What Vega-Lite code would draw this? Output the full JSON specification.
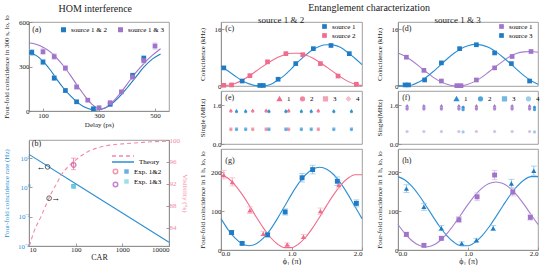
{
"$schema": "https://vega.github.io/schema/vega-lite/v6.json",
"padding": {"left": 1, "top": 2, "right": 0, "bottom": 0},
"background": "white",
"config": {
  "font": "Liberation Serif",
  "view": {"stroke": "#888", "strokeWidth": 0.8},
  "axis": {"labelFont": "Liberation Serif", "titleFont": "Liberation Serif", "labelFontSize": 7, "titleFontSize": 7, "titleFontWeight": "normal", "labelColor": "#222", "titleColor": "#222", "domainColor": "#888", "tickColor": "#888", "tickSize": -3, "labelPadding": 3, "titlePadding": 2, "grid": false, "domainWidth": 0.8, "tickWidth": 0.8},
  "legend": {"labelFont": "Liberation Serif", "labelFontSize": 7, "titleFont": "Liberation Serif", "padding": 0},
  "title": {"font": "Liberation Serif", "fontWeight": "normal", "color": "#222", "anchor": "middle"},
  "text": {"font": "Liberation Serif"}
},
"datasets": {
  "a_fit": [
    {"s":"source 1 & 2","d":50,"c":390},{"s":"source 1 & 2","d":75,"c":375},{"s":"source 1 & 2","d":100,"c":335},{"s":"source 1 & 2","d":125,"c":280},{"s":"source 1 & 2","d":150,"c":212},{"s":"source 1 & 2","d":175,"c":150},{"s":"source 1 & 2","d":200,"c":98},{"s":"source 1 & 2","d":225,"c":55},{"s":"source 1 & 2","d":250,"c":25},{"s":"source 1 & 2","d":275,"c":9},{"s":"source 1 & 2","d":290,"c":7},{"s":"source 1 & 2","d":310,"c":12},{"s":"source 1 & 2","d":340,"c":40},{"s":"source 1 & 2","d":370,"c":90},{"s":"source 1 & 2","d":400,"c":155},{"s":"source 1 & 2","d":430,"c":225},{"s":"source 1 & 2","d":460,"c":295},{"s":"source 1 & 2","d":490,"c":350},{"s":"source 1 & 2","d":520,"c":385},
    {"s":"source 1 & 3","d":50,"c":460},{"s":"source 1 & 3","d":75,"c":450},{"s":"source 1 & 3","d":100,"c":430},{"s":"source 1 & 3","d":125,"c":400},{"s":"source 1 & 3","d":150,"c":355},{"s":"source 1 & 3","d":175,"c":300},{"s":"source 1 & 3","d":200,"c":235},{"s":"source 1 & 3","d":225,"c":165},{"s":"source 1 & 3","d":250,"c":100},{"s":"source 1 & 3","d":275,"c":45},{"s":"source 1 & 3","d":300,"c":15},{"s":"source 1 & 3","d":320,"c":18},{"s":"source 1 & 3","d":340,"c":45},{"s":"source 1 & 3","d":370,"c":105},{"s":"source 1 & 3","d":400,"c":180},{"s":"source 1 & 3","d":430,"c":255},{"s":"source 1 & 3","d":460,"c":320},{"s":"source 1 & 3","d":490,"c":375},{"s":"source 1 & 3","d":520,"c":420}
  ],
  "a_pts": [
    {"s":"source 1 & 2","d":60,"c":395,"lo":375,"hi":415},{"s":"source 1 & 2","d":100,"c":330,"lo":312,"hi":348},{"s":"source 1 & 2","d":140,"c":222,"lo":207,"hi":237},{"s":"source 1 & 2","d":180,"c":138,"lo":126,"hi":150},{"s":"source 1 & 2","d":220,"c":62,"lo":54,"hi":70},{"s":"source 1 & 2","d":280,"c":15,"lo":11,"hi":19},{"s":"source 1 & 2","d":340,"c":45,"lo":38,"hi":52},{"s":"source 1 & 2","d":420,"c":240,"lo":225,"hi":255},{"s":"source 1 & 2","d":460,"c":355,"lo":336,"hi":374},
    {"s":"source 1 & 3","d":100,"c":400,"lo":380,"hi":420},{"s":"source 1 & 3","d":140,"c":367,"lo":348,"hi":386},{"s":"source 1 & 3","d":180,"c":289,"lo":272,"hi":306},{"s":"source 1 & 3","d":220,"c":162,"lo":149,"hi":175},{"s":"source 1 & 3","d":260,"c":73,"lo":64,"hi":82},{"s":"source 1 & 3","d":300,"c":22,"lo":17,"hi":27},{"s":"source 1 & 3","d":340,"c":56,"lo":49,"hi":63},{"s":"source 1 & 3","d":380,"c":129,"lo":118,"hi":140},{"s":"source 1 & 3","d":420,"c":229,"lo":214,"hi":244},{"s":"source 1 & 3","d":460,"c":340,"lo":322,"hi":358},{"s":"source 1 & 3","d":500,"c":438,"lo":417,"hi":459}
  ],
  "b_rate": [{"t":"Theory","car":10,"r":178},{"t":"Theory","car":100,"r":1.78},{"t":"Theory","car":1000,"r":0.0178},{"t":"Theory","car":10000,"r":0.000178}],
  "b_vis": [{"t2":"Th","car":10.2,"v":80.7},{"t2":"Th","car":13,"v":83.5},{"t2":"Th","car":18,"v":86},{"t2":"Th","car":24,"v":88.5},{"t2":"Th","car":30,"v":90.3},{"t2":"Th","car":40,"v":92.2},{"t2":"Th","car":49,"v":93.6},{"t2":"Th","car":70,"v":95.2},{"t2":"Th","car":95,"v":96.2},{"t2":"Th","car":130,"v":97.1},{"t2":"Th","car":185,"v":97.9},{"t2":"Th","car":300,"v":98.6},{"t2":"Th","car":590,"v":99.1},{"t2":"Th","car":1000,"v":99.3},{"t2":"Th","car":2200,"v":99.5},{"t2":"Th","car":5000,"v":99.7},{"t2":"Th","car":10000,"v":99.8}],
  "b_exp": [{"exp":"E12","exq":"Exp. 1&2","car":90,"r":1.2,"v":95.6,"lo":94.6,"hi":96.7},{"exp":"E13","exq":"Exp. 1&3","car":91,"r":1.1,"v":95.4,"lo":94.5,"hi":96.4}],
  "b_m1": [{"car":25,"r":25,"a":"←"}],
  "b_m2": [{"car":27,"v":89.4,"a":"→"}],
  "labels": [{"lab":"(a)"},{"lab":"(b)"},{"lab":"(c)"},{"lab":"(d)"},{"lab":"(e)"},{"lab":"(f)"},{"lab":"(g)"},{"lab":"(h)"}],
  "c_fit": [
    {"s":"source 1","x":0,"y":5.5},{"s":"source 1","x":0.1,"y":4.2},{"s":"source 1","x":0.2,"y":2.8},{"s":"source 1","x":0.3,"y":1.5},{"s":"source 1","x":0.4,"y":0.6},{"s":"source 1","x":0.5,"y":0.1},{"s":"source 1","x":0.6,"y":0.05},{"s":"source 1","x":0.7,"y":0.4},{"s":"source 1","x":0.8,"y":1.6},{"s":"source 1","x":0.9,"y":3.0},{"s":"source 1","x":1.0,"y":4.9},{"s":"source 1","x":1.1,"y":6.9},{"s":"source 1","x":1.2,"y":8.7},{"s":"source 1","x":1.3,"y":10.2},{"s":"source 1","x":1.4,"y":11.2},{"s":"source 1","x":1.5,"y":11.6},{"s":"source 1","x":1.6,"y":11.5},{"s":"source 1","x":1.7,"y":10.8},{"s":"source 1","x":1.8,"y":9.4},{"s":"source 1","x":1.9,"y":7.8},{"s":"source 1","x":2.0,"y":6.0},
    {"s":"source 2","x":0,"y":0.05},{"s":"source 2","x":0.1,"y":0.2},{"s":"source 2","x":0.2,"y":0.7},{"s":"source 2","x":0.3,"y":1.6},{"s":"source 2","x":0.4,"y":2.8},{"s":"source 2","x":0.5,"y":4.2},{"s":"source 2","x":0.6,"y":5.6},{"s":"source 2","x":0.7,"y":6.9},{"s":"source 2","x":0.8,"y":8.0},{"s":"source 2","x":0.9,"y":8.8},{"s":"source 2","x":1.0,"y":9.2},{"s":"source 2","x":1.1,"y":9.2},{"s":"source 2","x":1.2,"y":8.7},{"s":"source 2","x":1.3,"y":7.9},{"s":"source 2","x":1.4,"y":6.7},{"s":"source 2","x":1.5,"y":5.3},{"s":"source 2","x":1.6,"y":3.9},{"s":"source 2","x":1.7,"y":2.5},{"s":"source 2","x":1.8,"y":1.3},{"s":"source 2","x":1.9,"y":0.5},{"s":"source 2","x":2.0,"y":0.1}
  ],
  "c_pts": [
    {"s":"source 1","x":0.04,"y":5.1},{"s":"source 1","x":0.3,"y":1.4},{"s":"source 1","x":0.55,"y":0.15},{"s":"source 1","x":0.6,"y":0.15},{"s":"source 1","x":0.81,"y":1.9},{"s":"source 1","x":1.06,"y":6.3},{"s":"source 1","x":1.31,"y":10.5},{"s":"source 1","x":1.56,"y":11.4},{"s":"source 1","x":1.82,"y":9.1},
    {"s":"source 2","x":0.04,"y":0.2},{"s":"source 2","x":0.15,"y":0.3},{"s":"source 2","x":0.41,"y":2.9},{"s":"source 2","x":0.66,"y":6.8},{"s":"source 2","x":0.92,"y":9.1},{"s":"source 2","x":1.16,"y":8.8},{"s":"source 2","x":1.41,"y":6.3},{"s":"source 2","x":1.66,"y":2.8},{"s":"source 2","x":1.92,"y":0.5}
  ],
  "d_fit": [
    {"s":"source 1","x":0,"y":9.3},{"s":"source 1","x":0.1,"y":8.4},{"s":"source 1","x":0.2,"y":7.1},{"s":"source 1","x":0.3,"y":5.6},{"s":"source 1","x":0.4,"y":4.0},{"s":"source 1","x":0.5,"y":2.5},{"s":"source 1","x":0.6,"y":1.3},{"s":"source 1","x":0.7,"y":0.5},{"s":"source 1","x":0.8,"y":0.05},{"s":"source 1","x":0.9,"y":0.05},{"s":"source 1","x":1.0,"y":0.5},{"s":"source 1","x":1.1,"y":1.3},{"s":"source 1","x":1.2,"y":2.5},{"s":"source 1","x":1.3,"y":4.0},{"s":"source 1","x":1.4,"y":5.5},{"s":"source 1","x":1.5,"y":7.0},{"s":"source 1","x":1.6,"y":8.3},{"s":"source 1","x":1.7,"y":9.2},{"s":"source 1","x":1.8,"y":9.6},{"s":"source 1","x":1.9,"y":9.7},{"s":"source 1","x":2.0,"y":9.5},
    {"s":"source 3","x":0,"y":0.1},{"s":"source 3","x":0.1,"y":0.0},{"s":"source 3","x":0.2,"y":0.3},{"s":"source 3","x":0.3,"y":1.1},{"s":"source 3","x":0.4,"y":2.4},{"s":"source 3","x":0.5,"y":4.0},{"s":"source 3","x":0.6,"y":5.8},{"s":"source 3","x":0.7,"y":7.6},{"s":"source 3","x":0.8,"y":9.2},{"s":"source 3","x":0.9,"y":10.5},{"s":"source 3","x":1.0,"y":11.3},{"s":"source 3","x":1.1,"y":11.7},{"s":"source 3","x":1.2,"y":11.5},{"s":"source 3","x":1.3,"y":10.8},{"s":"source 3","x":1.4,"y":9.6},{"s":"source 3","x":1.5,"y":8.1},{"s":"source 3","x":1.6,"y":6.4},{"s":"source 3","x":1.7,"y":4.6},{"s":"source 3","x":1.8,"y":2.9},{"s":"source 3","x":1.9,"y":1.5},{"s":"source 3","x":2.0,"y":0.5}
  ],
  "d_pts": [
    {"s":"source 1","x":0.12,"y":8.1},{"s":"source 1","x":0.37,"y":4.4},{"s":"source 1","x":0.62,"y":1.4},{"s":"source 1","x":0.84,"y":0.1},{"s":"source 1","x":0.9,"y":0.1},{"s":"source 1","x":1.12,"y":1.7},{"s":"source 1","x":1.38,"y":5.1},{"s":"source 1","x":1.63,"y":8.3},{"s":"source 1","x":1.9,"y":9.7},
    {"s":"source 3","x":0.1,"y":0.3},{"s":"source 3","x":0.15,"y":0.3},{"s":"source 3","x":0.38,"y":1.7},{"s":"source 3","x":0.62,"y":6.5},{"s":"source 3","x":0.88,"y":10.5},{"s":"source 3","x":1.12,"y":11.6},{"s":"source 3","x":1.38,"y":9.3},{"s":"source 3","x":1.62,"y":6.3},{"s":"source 3","x":1.88,"y":1.4}
  ],
  "e_pts": [
    {"src":"s2","det":"1","x":0.14,"y":1.42},{"src":"s2","det":"2","x":0.14,"y":1.36},{"src":"s2","det":"3","x":0.14,"y":0.62},{"src":"s2","det":"4","x":0.14,"y":0.58},
    {"src":"s2","det":"1","x":0.45,"y":1.42},{"src":"s2","det":"2","x":0.45,"y":1.36},{"src":"s2","det":"3","x":0.45,"y":0.62},{"src":"s2","det":"4","x":0.45,"y":0.58},
    {"src":"s2","det":"1","x":0.64,"y":1.42},{"src":"s2","det":"2","x":0.64,"y":1.36},{"src":"s2","det":"3","x":0.64,"y":0.62},{"src":"s2","det":"4","x":0.64,"y":0.58},
    {"src":"s2","det":"1","x":0.96,"y":1.42},{"src":"s2","det":"2","x":0.96,"y":1.36},{"src":"s2","det":"3","x":0.96,"y":0.62},{"src":"s2","det":"4","x":0.96,"y":0.58},
    {"src":"s2","det":"1","x":1.38,"y":1.42},{"src":"s2","det":"2","x":1.38,"y":1.36},{"src":"s2","det":"3","x":1.38,"y":0.62},{"src":"s2","det":"4","x":1.38,"y":0.58},
    {"src":"s1","det":"1","x":0.22,"y":1.40},{"src":"s1","det":"2","x":0.22,"y":1.34},{"src":"s1","det":"3","x":0.22,"y":0.62},{"src":"s1","det":"4","x":0.22,"y":0.58},
    {"src":"s1","det":"1","x":0.35,"y":1.40},{"src":"s1","det":"2","x":0.35,"y":1.34},{"src":"s1","det":"3","x":0.35,"y":0.62},{"src":"s1","det":"4","x":0.35,"y":0.58},
    {"src":"s1","det":"1","x":0.68,"y":1.40},{"src":"s1","det":"2","x":0.68,"y":1.34},{"src":"s1","det":"3","x":0.68,"y":0.62},{"src":"s1","det":"4","x":0.68,"y":0.58},
    {"src":"s1","det":"1","x":0.92,"y":1.40},{"src":"s1","det":"2","x":0.92,"y":1.34},{"src":"s1","det":"3","x":0.92,"y":0.62},{"src":"s1","det":"4","x":0.92,"y":0.58},
    {"src":"s1","det":"1","x":1.14,"y":1.40},{"src":"s1","det":"2","x":1.14,"y":1.34},{"src":"s1","det":"3","x":1.14,"y":0.62},{"src":"s1","det":"4","x":1.14,"y":0.58},
    {"src":"s1","det":"1","x":1.28,"y":1.40},{"src":"s1","det":"2","x":1.28,"y":1.34},{"src":"s1","det":"3","x":1.28,"y":0.62},{"src":"s1","det":"4","x":1.28,"y":0.58},
    {"src":"s1","det":"1","x":1.6,"y":1.40},{"src":"s1","det":"2","x":1.6,"y":1.34},{"src":"s1","det":"3","x":1.6,"y":0.62},{"src":"s1","det":"4","x":1.6,"y":0.58},
    {"src":"s1","det":"1","x":1.85,"y":1.40},{"src":"s1","det":"2","x":1.85,"y":1.34},{"src":"s1","det":"3","x":1.85,"y":0.62},{"src":"s1","det":"4","x":1.85,"y":0.58}
  ],
  "f_pts": [
    {"src":"s1","det":"1","x":0.13,"y":1.6},{"src":"s1","det":"2","x":0.13,"y":1.45},{"src":"s1","det":"3","x":0.13,"y":1.52},{"src":"s1","det":"4","x":0.13,"y":0.52},
    {"src":"s1","det":"1","x":0.37,"y":1.6},{"src":"s1","det":"2","x":0.37,"y":1.45},{"src":"s1","det":"3","x":0.37,"y":1.52},{"src":"s1","det":"4","x":0.37,"y":0.52},
    {"src":"s1","det":"1","x":0.62,"y":1.6},{"src":"s1","det":"2","x":0.62,"y":1.45},{"src":"s1","det":"3","x":0.62,"y":1.52},{"src":"s1","det":"4","x":0.62,"y":0.52},
    {"src":"s1","det":"1","x":0.87,"y":1.6},{"src":"s1","det":"2","x":0.87,"y":1.45},{"src":"s1","det":"3","x":0.87,"y":1.52},{"src":"s1","det":"4","x":0.87,"y":0.52},
    {"src":"s1","det":"1","x":1.12,"y":1.6},{"src":"s1","det":"2","x":1.12,"y":1.45},{"src":"s1","det":"3","x":1.12,"y":1.52},{"src":"s1","det":"4","x":1.12,"y":0.52},
    {"src":"s1","det":"1","x":1.38,"y":1.6},{"src":"s1","det":"2","x":1.38,"y":1.45},{"src":"s1","det":"3","x":1.38,"y":1.52},{"src":"s1","det":"4","x":1.38,"y":0.52},
    {"src":"s1","det":"1","x":1.63,"y":1.6},{"src":"s1","det":"2","x":1.63,"y":1.45},{"src":"s1","det":"3","x":1.63,"y":1.52},{"src":"s1","det":"4","x":1.63,"y":0.52},
    {"src":"s1","det":"1","x":1.88,"y":1.6},{"src":"s1","det":"2","x":1.88,"y":1.45},{"src":"s1","det":"3","x":1.88,"y":1.52},{"src":"s1","det":"4","x":1.88,"y":0.52},
    {"src":"s3","det":"1","x":0.93,"y":1.55},{"src":"s3","det":"2","x":0.93,"y":1.42},{"src":"s3","det":"3","x":0.93,"y":1.5},{"src":"s3","det":"4","x":0.93,"y":0.5},
    {"src":"s3","det":"1","x":1.95,"y":1.55},{"src":"s3","det":"2","x":1.95,"y":1.42},{"src":"s3","det":"3","x":1.95,"y":1.5},{"src":"s3","det":"4","x":1.95,"y":0.5}
  ],
  "g_fit": [
    {"s":"b","x":0,"y":80.8},{"s":"b","x":0.1,"y":52.6},{"s":"b","x":0.2,"y":30.3},{"s":"b","x":0.3,"y":16},{"s":"b","x":0.4,"y":11},{"s":"b","x":0.5,"y":16},{"s":"b","x":0.6,"y":30.3},{"s":"b","x":0.7,"y":52.6},{"s":"b","x":0.8,"y":80.8},{"s":"b","x":0.9,"y":112},{"s":"b","x":1.0,"y":143.2},{"s":"b","x":1.1,"y":171.4},{"s":"b","x":1.2,"y":193.7},{"s":"b","x":1.3,"y":208},{"s":"b","x":1.4,"y":213},{"s":"b","x":1.5,"y":208},{"s":"b","x":1.6,"y":193.7},{"s":"b","x":1.7,"y":171.4},{"s":"b","x":1.8,"y":143.2},{"s":"b","x":1.9,"y":112},{"s":"b","x":2.0,"y":80.8},
    {"s":"p","x":0,"y":193.8},{"s":"p","x":0.1,"y":184.6},{"s":"p","x":0.2,"y":167.2},{"s":"p","x":0.3,"y":143.1},{"s":"p","x":0.4,"y":114.9},{"s":"p","x":0.5,"y":85.1},{"s":"p","x":0.6,"y":56.9},{"s":"p","x":0.7,"y":32.8},{"s":"p","x":0.8,"y":15.4},{"s":"p","x":0.9,"y":6.2},{"s":"p","x":1.0,"y":6.2},{"s":"p","x":1.1,"y":15.4},{"s":"p","x":1.2,"y":32.8},{"s":"p","x":1.3,"y":56.9},{"s":"p","x":1.4,"y":85.1},{"s":"p","x":1.5,"y":114.9},{"s":"p","x":1.6,"y":143.1},{"s":"p","x":1.7,"y":167.2},{"s":"p","x":1.8,"y":184.6},{"s":"p","x":1.9,"y":193.8},{"s":"p","x":2.0,"y":193.8}
  ],
  "g_pts": [
    {"s":"p","x":0.04,"y":193,"lo":183,"hi":205},{"s":"p","x":0.16,"y":175,"lo":165,"hi":186},{"s":"p","x":0.41,"y":102,"lo":94,"hi":111},{"s":"p","x":0.6,"y":42,"lo":37,"hi":48},{"s":"p","x":0.94,"y":14,"lo":11,"hi":18},{"s":"p","x":1.17,"y":34,"lo":30,"hi":40},{"s":"p","x":1.41,"y":100,"lo":92,"hi":108},{"s":"p","x":1.67,"y":167,"lo":157,"hi":178},
    {"s":"b","x":0.15,"y":45,"lo":40,"hi":50},{"s":"b","x":0.3,"y":17,"lo":14,"hi":20},{"s":"b","x":0.66,"y":39,"lo":34,"hi":44},{"s":"b","x":0.91,"y":98,"lo":90,"hi":106},{"s":"b","x":1.15,"y":186,"lo":175,"hi":197},{"s":"b","x":1.3,"y":207,"lo":196,"hi":218},{"s":"b","x":1.65,"y":177,"lo":166,"hi":188},{"s":"b","x":1.92,"y":120,"lo":111,"hi":129}
  ],
  "h_fit": [
    {"s":"b","x":0,"y":188.9},{"s":"b","x":0.1,"y":180.2},{"s":"b","x":0.2,"y":163.6},{"s":"b","x":0.3,"y":140.9},{"s":"b","x":0.4,"y":114},{"s":"b","x":0.5,"y":86},{"s":"b","x":0.6,"y":59.1},{"s":"b","x":0.7,"y":36.4},{"s":"b","x":0.8,"y":19.8},{"s":"b","x":0.9,"y":11.1},{"s":"b","x":1.0,"y":11.1},{"s":"b","x":1.1,"y":19.8},{"s":"b","x":1.2,"y":36.4},{"s":"b","x":1.3,"y":59.1},{"s":"b","x":1.4,"y":86},{"s":"b","x":1.5,"y":114},{"s":"b","x":1.6,"y":140.9},{"s":"b","x":1.7,"y":163.6},{"s":"b","x":1.8,"y":180.2},{"s":"b","x":1.9,"y":188.9},{"s":"b","x":2.0,"y":188.9},
    {"s":"u","x":0,"y":65.7},{"s":"u","x":0.1,"y":42.4},{"s":"u","x":0.2,"y":23.9},{"s":"u","x":0.3,"y":12.1},{"s":"u","x":0.4,"y":8},{"s":"u","x":0.5,"y":12.1},{"s":"u","x":0.6,"y":23.9},{"s":"u","x":0.7,"y":42.4},{"s":"u","x":0.8,"y":65.7},{"s":"u","x":0.9,"y":91.5},{"s":"u","x":1.0,"y":117.3},{"s":"u","x":1.1,"y":140.6},{"s":"u","x":1.2,"y":159.1},{"s":"u","x":1.3,"y":170.9},{"s":"u","x":1.4,"y":175},{"s":"u","x":1.5,"y":170.9},{"s":"u","x":1.6,"y":159.1},{"s":"u","x":1.7,"y":140.6},{"s":"u","x":1.8,"y":117.3},{"s":"u","x":1.9,"y":91.5},{"s":"u","x":2.0,"y":65.7}
  ],
  "h_pts": [
    {"s":"b","x":0.12,"y":158,"lo":148,"hi":168},{"s":"b","x":0.37,"y":111,"lo":102,"hi":120},{"s":"b","x":0.62,"y":56,"lo":50,"hi":63},{"s":"b","x":0.91,"y":17,"lo":13,"hi":21},{"s":"b","x":1.12,"y":25,"lo":21,"hi":30},{"s":"b","x":1.36,"y":56,"lo":50,"hi":63},{"s":"b","x":1.62,"y":171,"lo":160,"hi":182},{"s":"b","x":1.94,"y":204,"lo":192,"hi":216},
    {"s":"u","x":0.12,"y":40,"lo":35,"hi":46},{"s":"u","x":0.37,"y":12,"lo":9,"hi":15},{"s":"u","x":0.62,"y":30,"lo":26,"hi":35},{"s":"u","x":0.87,"y":78,"lo":71,"hi":86},{"s":"u","x":1.13,"y":137,"lo":127,"hi":147},{"s":"u","x":1.38,"y":193,"lo":181,"hi":205},{"s":"u","x":1.64,"y":149,"lo":139,"hi":159},{"s":"u","x":1.89,"y":84,"lo":77,"hi":92}
  ]
},
"spacing": 8,
"resolve": {"scale": {"color": "independent", "shape": "independent", "opacity": "independent", "fill": "independent", "stroke": "independent", "strokeDash": "independent", "x": "independent", "y": "independent"}, "legend": {"color": "independent", "shape": "independent", "fill": "independent", "stroke": "independent", "strokeDash": "independent"}},
"hconcat": [
{
  "title": {"text": "HOM interference", "fontSize": 10, "offset": 0},
  "spacing": 7,
  "resolve": {"scale": {"color": "independent", "fill": "independent", "stroke": "independent", "strokeDash": "independent", "x": "independent", "y": "independent"}, "legend": {"color": "independent", "fill": "independent", "stroke": "independent", "strokeDash": "independent"}},
  "vconcat": [
  {
    "width": 140, "height": 89,
    "layer": [
      {"data": {"name": "a_fit"}, "transform": [{"filter": "datum.s == 'source 1 & 2'"}], "mark": {"type": "line", "strokeWidth": 1.1, "interpolate": "monotone", "color": "#1f7bc4"},
       "encoding": {"x": {"field": "d", "type": "quantitative", "scale": {"domain": [50, 520]}, "axis": {"title": "Delay (ps)", "values": [100, 200, 300, 400, 500]}},
                    "y": {"field": "c", "type": "quantitative", "scale": {"domain": [0, 600]}, "axis": {"title": "Four-fold coincidence in 300 s", "values": [0, 150, 300, 450, 600], "minExtent": 18, "maxExtent": 18}}}},
      {"data": {"name": "a_fit"}, "transform": [{"filter": "datum.s == 'source 1 & 3'"}], "mark": {"type": "line", "strokeWidth": 1.1, "interpolate": "monotone", "color": "#9f74c9"},
       "encoding": {"x": {"field": "d", "type": "quantitative"}, "y": {"field": "c", "type": "quantitative"}}},
      {"data": {"name": "a_pts"}, "transform": [{"filter": "datum.s == 'source 1 & 2'"}], "mark": {"type": "errorbar", "ticks": {"size": 5}, "color": "#8fc3ea"},
       "encoding": {"x": {"field": "d", "type": "quantitative"}, "y": {"field": "lo", "type": "quantitative"}, "y2": {"field": "hi"}}},
      {"data": {"name": "a_pts"}, "transform": [{"filter": "datum.s == 'source 1 & 3'"}], "mark": {"type": "errorbar", "ticks": {"size": 5}, "color": "#d2bde8"},
       "encoding": {"x": {"field": "d", "type": "quantitative"}, "y": {"field": "lo", "type": "quantitative"}, "y2": {"field": "hi"}}},
      {"data": {"name": "a_pts"}, "mark": {"type": "point", "shape": "square", "filled": true, "size": 22, "opacity": 1},
       "encoding": {"x": {"field": "d", "type": "quantitative"}, "y": {"field": "c", "type": "quantitative"},
                    "color": {"field": "s", "type": "nominal", "scale": {"domain": ["source 1 & 2", "source 1 & 3"], "range": ["#1f7bc4", "#9f74c9"]},
                              "legend": {"title": null, "orient": "none", "legendX": 31, "legendY": 4, "direction": "horizontal", "symbolType": "square", "symbolSize": 25, "columnPadding": 10, "labelFontSize": 7}}}},
      {"data": {"name": "labels"}, "transform": [{"filter": "datum.lab == '(a)'"}], "mark": {"type": "text", "align": "left", "baseline": "middle", "fontSize": 8, "color": "#222"},
       "encoding": {"x": {"datum": 62}, "y": {"datum": 548}, "text": {"field": "lab"}}}
    ]
  },
  {
    "width": 140, "height": 106,
    "resolve": {"scale": {"y": "independent"}},
    "layer": [
      {"data": {"name": "b_rate"}, "mark": {"type": "line", "strokeWidth": 1.1},
       "encoding": {"x": {"field": "car", "type": "quantitative", "scale": {"type": "log", "domain": [10, 10000]}, "axis": {"title": "CAR", "values": [10, 100, 1000, 10000], "format": "d", "titleFontSize": 8, "labelPadding": 2, "titlePadding": 1}},
                    "y": {"field": "r", "type": "quantitative", "scale": {"type": "log", "domain": [0.0001, 1700]}, "axis": {"title": "Four-fold coincidence rate (Hz)", "values": [0.0001, 0.01, 1, 100], "labelExpr": "datum.value >= 50 ? '10²' : datum.value >= 0.5 ? '10⁰' : datum.value >= 0.005 ? '10⁻²' : '10⁻⁴'", "labelColor": "#2a8fd4", "titleColor": "#2a8fd4", "minExtent": 18, "maxExtent": 18}},
                    "color": {"field": "t", "type": "nominal", "scale": {"domain": ["Theory"], "range": ["#2a8fd4"]}, "legend": {"title": null, "orient": "none", "legendX": 82, "legendY": 10, "symbolType": "stroke", "symbolSize": 484, "symbolStrokeWidth": 1.5, "labelFontSize": 7}}}},
      {"data": {"name": "b_exp"}, "mark": {"type": "point", "shape": "square", "filled": true, "size": 20},
       "encoding": {"x": {"field": "car", "type": "quantitative"}, "y": {"field": "r", "type": "quantitative", "scale": {"type": "log", "domain": [0.0001, 1700]}, "axis": null},
                    "fill": {"field": "exq", "type": "nominal", "scale": {"domain": ["Exp. 1&2", "Exp. 1&3"], "range": ["#2a8fd4", "#6fd3e3"]}, "legend": {"title": null, "orient": "none", "legendX": 94, "legendY": 28, "symbolType": "square", "symbolSize": 20, "rowPadding": 2, "labelFontSize": 7}}}},
      {"data": {"name": "b_m1"}, "mark": {"type": "point", "shape": "circle", "filled": false, "size": 22, "color": "#222", "strokeWidth": 1},
       "encoding": {"x": {"field": "car", "type": "quantitative"}, "y": {"field": "r", "type": "quantitative", "scale": {"type": "log", "domain": [0.0001, 1700]}, "axis": null}}},
      {"data": {"name": "b_m1"}, "mark": {"type": "text", "align": "right", "dx": -2, "fontSize": 9, "color": "#111", "baseline": "middle"},
       "encoding": {"x": {"field": "car", "type": "quantitative"}, "y": {"field": "r", "type": "quantitative", "scale": {"type": "log", "domain": [0.0001, 1700]}, "axis": null}, "text": {"field": "a"}}},
      {"data": {"name": "labels"}, "transform": [{"filter": "datum.lab == '(b)'"}], "mark": {"type": "text", "align": "left", "baseline": "middle", "fontSize": 8, "color": "#222"},
       "encoding": {"x": {"datum": 11.5}, "y": {"datum": 900, "scale": {"type": "log", "domain": [0.0001, 1700]}, "axis": null}, "text": {"field": "lab"}}},
      {"data": {"name": "b_vis"}, "mark": {"type": "line", "strokeWidth": 1.1, "color": "#f28aa3", "interpolate": "monotone"},
       "encoding": {"x": {"field": "car", "type": "quantitative"},
                    "y": {"field": "v", "type": "quantitative", "scale": {"domain": [80.7, 100]}, "axis": {"orient": "right", "title": "Visibility (%)", "values": [84, 88, 92, 96, 100], "labelColor": "#f28aa3", "titleColor": "#f28aa3"}},
                    "strokeDash": {"field": "t2", "type": "nominal", "scale": {"domain": ["Th"], "range": [[4, 3]]}, "legend": {"title": null, "orient": "none", "legendX": 82, "legendY": 4, "symbolType": "stroke", "symbolSize": 484, "symbolStrokeColor": "#f28aa3", "symbolStrokeWidth": 1.5, "labelExpr": "''"}}}},
      {"data": {"name": "b_exp"}, "transform": [{"filter": "datum.exp == 'E12'"}], "mark": {"type": "errorbar", "ticks": {"size": 5}, "color": "#f28aa3"},
       "encoding": {"x": {"field": "car", "type": "quantitative"}, "y": {"field": "lo", "type": "quantitative", "scale": {"domain": [80.7, 100]}, "axis": null}, "y2": {"field": "hi"}}},
      {"data": {"name": "b_exp"}, "mark": {"type": "point", "shape": "circle", "filled": false, "size": 22, "strokeWidth": 1},
       "encoding": {"x": {"field": "car", "type": "quantitative"}, "y": {"field": "v", "type": "quantitative", "scale": {"domain": [80.7, 100]}, "axis": null},
                    "stroke": {"field": "exp", "type": "nominal", "scale": {"domain": ["E12", "E13"], "range": ["#f06c8c", "#b04fc0"]}, "legend": {"title": null, "orient": "none", "legendX": 83, "legendY": 28, "symbolType": "circle", "symbolSize": 20, "rowPadding": 2, "labelExpr": "''", "labelFontSize": 7}}}},
      {"data": {"name": "b_m2"}, "mark": {"type": "point", "shape": "circle", "filled": false, "size": 22, "color": "#222", "strokeWidth": 1},
       "encoding": {"x": {"field": "car", "type": "quantitative"}, "y": {"field": "v", "type": "quantitative", "scale": {"domain": [80.7, 100]}, "axis": null}}},
      {"data": {"name": "b_m2"}, "mark": {"type": "text", "align": "left", "dx": 2, "fontSize": 9, "color": "#111", "baseline": "middle"},
       "encoding": {"x": {"field": "car", "type": "quantitative"}, "y": {"field": "v", "type": "quantitative", "scale": {"domain": [80.7, 100]}, "axis": null}, "text": {"field": "a"}}}
    ]
  }
  ]
},
{
  "title": {"text": "Entanglement characterization", "fontSize": 10, "offset": 3},
  "spacing": 9,
  "resolve": {"scale": {"color": "independent", "shape": "independent", "opacity": "independent", "x": "independent", "y": "independent"}, "legend": {"color": "independent", "shape": "independent"}},
  "hconcat": [
  {
    "title": {"text": "source 1 & 2", "fontSize": 9, "offset": -3},
    "spacing": 0,
    "resolve": {"scale": {"color": "independent", "shape": "independent", "opacity": "independent", "x": "independent", "y": "independent"}, "legend": {"color": "independent", "shape": "independent"}},
    "vconcat": [
    {
      "width": 141, "height": 64,
      "layer": [
        {"data": {"name": "c_fit"}, "transform": [{"filter": "datum.s == 'source 1'"}], "mark": {"type": "line", "strokeWidth": 1.1, "interpolate": "monotone", "color": "#2a8fd4"},
         "encoding": {"x": {"field": "x", "type": "quantitative", "scale": {"domain": [0, 2]}, "axis": null},
                      "y": {"field": "y", "type": "quantitative", "scale": {"domain": [0, 17.6]}, "axis": {"title": "Coincidence (kHz)", "values": [0, 4, 8, 12, 16], "minExtent": 14, "maxExtent": 14}}}},
        {"data": {"name": "c_fit"}, "transform": [{"filter": "datum.s == 'source 2'"}], "mark": {"type": "line", "strokeWidth": 1.1, "interpolate": "monotone", "color": "#f06c8c"},
         "encoding": {"x": {"field": "x", "type": "quantitative"}, "y": {"field": "y", "type": "quantitative"}}},
        {"data": {"name": "c_pts"}, "mark": {"type": "point", "shape": "square", "filled": true, "size": 22, "opacity": 1},
         "encoding": {"x": {"field": "x", "type": "quantitative"}, "y": {"field": "y", "type": "quantitative"},
                      "color": {"field": "s", "type": "nominal", "scale": {"domain": ["source 1", "source 2"], "range": ["#1f7bc4", "#f06c8c"]},
                                "legend": {"title": null, "orient": "none", "legendX": 100, "legendY": 1, "symbolType": "square", "symbolSize": 22, "rowPadding": 1, "labelFontSize": 7}}}},
        {"data": {"name": "labels"}, "transform": [{"filter": "datum.lab == '(c)'"}], "mark": {"type": "text", "align": "left", "baseline": "middle", "fontSize": 8, "color": "#222"},
         "encoding": {"x": {"datum": 0.06}, "y": {"datum": 16}, "text": {"field": "lab"}}}
      ]
    },
    {
      "width": 141, "height": 53,
      "layer": [
        {"data": {"name": "e_pts"},
         "mark": {"type": "point", "filled": true, "size": 10},
         "encoding": {
          "x": {"field": "x", "type": "quantitative", "scale": {"domain": [0, 2]}, "axis": null},
          "y": {"field": "y", "type": "quantitative", "scale": {"domain": [0, 2.2]}, "axis": {"title": "Single (MHz)", "values": [0, 0.8, 1.6], "format": ".1f", "minExtent": 14, "maxExtent": 14}},
          "color": {"field": "src", "type": "nominal", "scale": {"domain": ["s1", "s2"], "range": ["#2a8fd4", "#f06c8c"]}, "legend": null},
          "opacity": {"field": "det", "type": "nominal", "scale": {"domain": ["1", "2", "3", "4"], "range": [1, 0.45, 1, 0.45]}, "legend": null},
          "shape": {"field": "det", "type": "nominal", "scale": {"domain": ["1", "2", "3", "4"], "range": ["triangle-up", "circle", "square", "diamond"]},
                    "legend": {"title": null, "orient": "none", "legendX": 55, "legendY": 4, "direction": "horizontal", "symbolSize": 14, "columnPadding": 6, "symbolFillColor": "#f06c8c", "symbolStrokeColor": "#f06c8c", "labelFontSize": 7}}
         }},
        {"data": {"name": "labels"}, "transform": [{"filter": "datum.lab == '(e)'"}], "mark": {"type": "text", "align": "left", "baseline": "middle", "fontSize": 8, "color": "#222"},
         "encoding": {"x": {"datum": 0.06}, "y": {"datum": 1.9}, "text": {"field": "lab"}}}
      ]
    },
    {
      "width": 141, "height": 101,
      "layer": [
        {"data": {"name": "g_fit"}, "transform": [{"filter": "datum.s == 'b'"}], "mark": {"type": "line", "strokeWidth": 1.1, "interpolate": "monotone", "color": "#2a8fd4"},
         "encoding": {"x": {"field": "x", "type": "quantitative", "scale": {"domain": [0, 2]}, "axis": {"title": "ϕ₁ (π)", "values": [0, 0.5, 1, 1.5, 2], "format": ".1f", "titleFontSize": 8, "labelPadding": 2, "titlePadding": 1}},
                      "y": {"field": "y", "type": "quantitative", "scale": {"domain": [0, 245]}, "axis": {"title": "Four-fold coincidence in 1 h", "values": [0, 50, 100, 150, 200], "minExtent": 14, "maxExtent": 14}}}},
        {"data": {"name": "g_fit"}, "transform": [{"filter": "datum.s == 'p'"}], "mark": {"type": "line", "strokeWidth": 1.1, "interpolate": "monotone", "color": "#f06c8c"},
         "encoding": {"x": {"field": "x", "type": "quantitative"}, "y": {"field": "y", "type": "quantitative"}}},
        {"data": {"name": "g_pts"}, "transform": [{"filter": "datum.s == 'b'"}], "mark": {"type": "errorbar", "ticks": {"size": 6}, "color": "#8fc3ea"},
         "encoding": {"x": {"field": "x", "type": "quantitative"}, "y": {"field": "lo", "type": "quantitative"}, "y2": {"field": "hi"}}},
        {"data": {"name": "g_pts"}, "transform": [{"filter": "datum.s == 'p'"}], "mark": {"type": "errorbar", "ticks": {"size": 6}, "color": "#f7b3c4"},
         "encoding": {"x": {"field": "x", "type": "quantitative"}, "y": {"field": "lo", "type": "quantitative"}, "y2": {"field": "hi"}}},
        {"data": {"name": "g_pts"}, "transform": [{"filter": "datum.s == 'b'"}], "mark": {"type": "point", "shape": "square", "filled": true, "size": 24, "color": "#1f7bc4", "opacity": 1},
         "encoding": {"x": {"field": "x", "type": "quantitative"}, "y": {"field": "y", "type": "quantitative"}}},
        {"data": {"name": "g_pts"}, "transform": [{"filter": "datum.s == 'p'"}], "mark": {"type": "point", "shape": "triangle-up", "filled": true, "size": 26, "color": "#f06c8c", "opacity": 1},
         "encoding": {"x": {"field": "x", "type": "quantitative"}, "y": {"field": "y", "type": "quantitative"}}},
        {"data": {"name": "labels"}, "transform": [{"filter": "datum.lab == '(g)'"}], "mark": {"type": "text", "align": "left", "baseline": "middle", "fontSize": 8, "color": "#222"},
         "encoding": {"x": {"datum": 0.06}, "y": {"datum": 230}, "text": {"field": "lab"}}}
      ]
    }
    ]
  },
  {
    "title": {"text": "source 1 & 3", "fontSize": 9, "offset": -3},
    "spacing": 0,
    "resolve": {"scale": {"color": "independent", "shape": "independent", "opacity": "independent", "x": "independent", "y": "independent"}, "legend": {"color": "independent", "shape": "independent"}},
    "vconcat": [
    {
      "width": 140, "height": 64,
      "layer": [
        {"data": {"name": "d_fit"}, "transform": [{"filter": "datum.s == 'source 1'"}], "mark": {"type": "line", "strokeWidth": 1.1, "interpolate": "monotone", "color": "#a57fce"},
         "encoding": {"x": {"field": "x", "type": "quantitative", "scale": {"domain": [0, 2]}, "axis": null},
                      "y": {"field": "y", "type": "quantitative", "scale": {"domain": [0, 17.6]}, "axis": {"title": "Coincidence (kHz)", "values": [0, 4, 8, 12, 16], "minExtent": 14, "maxExtent": 14}}}},
        {"data": {"name": "d_fit"}, "transform": [{"filter": "datum.s == 'source 3'"}], "mark": {"type": "line", "strokeWidth": 1.1, "interpolate": "monotone", "color": "#2a8fd4"},
         "encoding": {"x": {"field": "x", "type": "quantitative"}, "y": {"field": "y", "type": "quantitative"}}},
        {"data": {"name": "d_pts"}, "mark": {"type": "point", "shape": "square", "filled": true, "size": 22, "opacity": 1},
         "encoding": {"x": {"field": "x", "type": "quantitative"}, "y": {"field": "y", "type": "quantitative"},
                      "color": {"field": "s", "type": "nominal", "scale": {"domain": ["source 1", "source 3"], "range": ["#9f74c9", "#1f7bc4"]},
                                "legend": {"title": null, "orient": "none", "legendX": 100, "legendY": 1, "symbolType": "square", "symbolSize": 22, "rowPadding": 1, "labelFontSize": 7}}}},
        {"data": {"name": "labels"}, "transform": [{"filter": "datum.lab == '(d)'"}], "mark": {"type": "text", "align": "left", "baseline": "middle", "fontSize": 8, "color": "#222"},
         "encoding": {"x": {"datum": 0.06}, "y": {"datum": 16}, "text": {"field": "lab"}}}
      ]
    },
    {
      "width": 140, "height": 53,
      "layer": [
        {"data": {"name": "f_pts"},
         "mark": {"type": "point", "filled": true, "size": 10},
         "encoding": {
          "x": {"field": "x", "type": "quantitative", "scale": {"domain": [0, 2]}, "axis": null},
          "y": {"field": "y", "type": "quantitative", "scale": {"domain": [0, 2.2]}, "axis": {"title": "Single(MHz)", "values": [0, 0.8, 1.6], "format": ".1f", "minExtent": 14, "maxExtent": 14}},
          "color": {"field": "src", "type": "nominal", "scale": {"domain": ["s1", "s3"], "range": ["#9f74c9", "#2a8fd4"]}, "legend": null},
          "opacity": {"field": "det", "type": "nominal", "scale": {"domain": ["1", "2", "3", "4"], "range": [1, 0.45, 1, 0.45]}, "legend": null},
          "shape": {"field": "det", "type": "nominal", "scale": {"domain": ["1", "2", "3", "4"], "range": ["triangle-up", "circle", "square", "circle"]},
                    "legend": {"title": null, "orient": "none", "legendX": 55, "legendY": 4, "direction": "horizontal", "symbolSize": 14, "columnPadding": 7, "symbolFillColor": "#2a8fd4", "symbolStrokeColor": "#2a8fd4", "labelFontSize": 7}}
         }},
        {"data": {"name": "labels"}, "transform": [{"filter": "datum.lab == '(f)'"}], "mark": {"type": "text", "align": "left", "baseline": "middle", "fontSize": 8, "color": "#222"},
         "encoding": {"x": {"datum": 0.06}, "y": {"datum": 1.9}, "text": {"field": "lab"}}}
      ]
    },
    {
      "width": 140, "height": 101,
      "layer": [
        {"data": {"name": "h_fit"}, "transform": [{"filter": "datum.s == 'b'"}], "mark": {"type": "line", "strokeWidth": 1.1, "interpolate": "monotone", "color": "#2a8fd4"},
         "encoding": {"x": {"field": "x", "type": "quantitative", "scale": {"domain": [0, 2]}, "axis": {"title": "ϕ₁ (π)", "values": [0, 0.5, 1, 1.5, 2], "format": ".1f", "titleFontSize": 8, "labelPadding": 2, "titlePadding": 1}},
                      "y": {"field": "y", "type": "quantitative", "scale": {"domain": [0, 245]}, "axis": {"title": "Four-fold coincidence in 1 h", "values": [0, 50, 100, 150, 200], "minExtent": 14, "maxExtent": 14}}}},
        {"data": {"name": "h_fit"}, "transform": [{"filter": "datum.s == 'u'"}], "mark": {"type": "line", "strokeWidth": 1.1, "interpolate": "monotone", "color": "#a57fce"},
         "encoding": {"x": {"field": "x", "type": "quantitative"}, "y": {"field": "y", "type": "quantitative"}}},
        {"data": {"name": "h_pts"}, "transform": [{"filter": "datum.s == 'b'"}], "mark": {"type": "errorbar", "ticks": {"size": 6}, "color": "#8fc3ea"},
         "encoding": {"x": {"field": "x", "type": "quantitative"}, "y": {"field": "lo", "type": "quantitative"}, "y2": {"field": "hi"}}},
        {"data": {"name": "h_pts"}, "transform": [{"filter": "datum.s == 'u'"}], "mark": {"type": "errorbar", "ticks": {"size": 6}, "color": "#d2bde8"},
         "encoding": {"x": {"field": "x", "type": "quantitative"}, "y": {"field": "lo", "type": "quantitative"}, "y2": {"field": "hi"}}},
        {"data": {"name": "h_pts"}, "transform": [{"filter": "datum.s == 'b'"}], "mark": {"type": "point", "shape": "triangle-up", "filled": true, "size": 26, "color": "#1f7bc4", "opacity": 1},
         "encoding": {"x": {"field": "x", "type": "quantitative"}, "y": {"field": "y", "type": "quantitative"}}},
        {"data": {"name": "h_pts"}, "transform": [{"filter": "datum.s == 'u'"}], "mark": {"type": "point", "shape": "square", "filled": true, "size": 24, "color": "#9f74c9", "opacity": 1},
         "encoding": {"x": {"field": "x", "type": "quantitative"}, "y": {"field": "y", "type": "quantitative"}}},
        {"data": {"name": "labels"}, "transform": [{"filter": "datum.lab == '(h)'"}], "mark": {"type": "text", "align": "left", "baseline": "middle", "fontSize": 8, "color": "#222"},
         "encoding": {"x": {"datum": 0.06}, "y": {"datum": 230}, "text": {"field": "lab"}}}
      ]
    }
    ]
  }
  ]
}
]
}
